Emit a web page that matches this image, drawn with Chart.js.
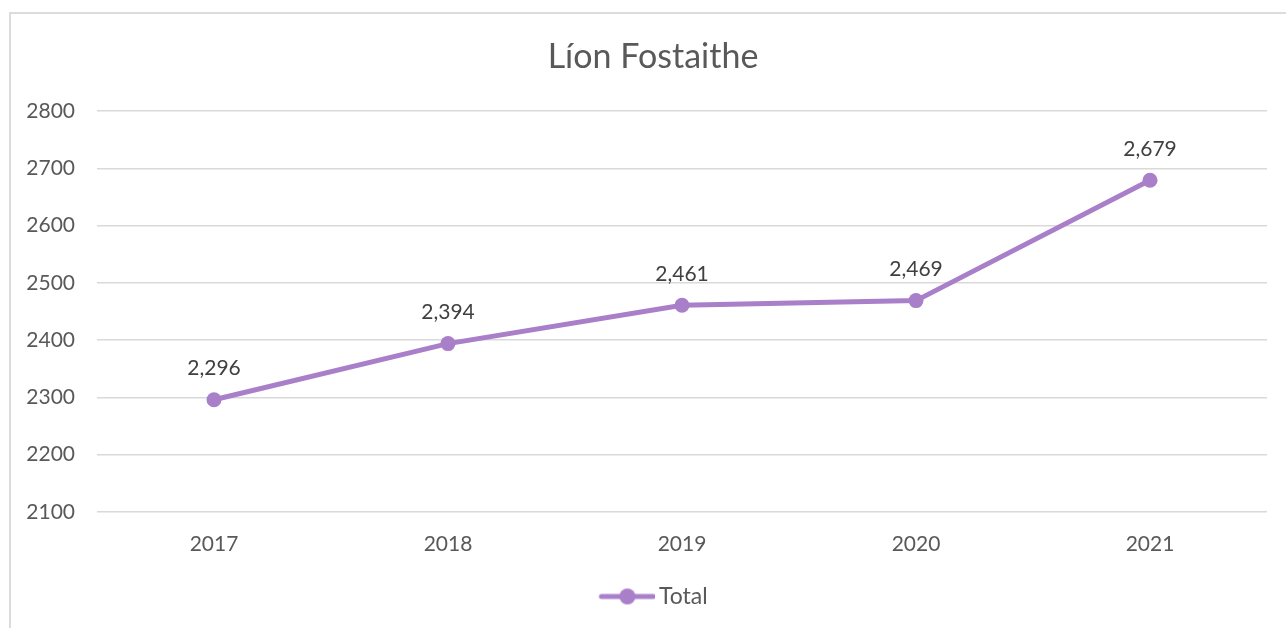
<!DOCTYPE html>
<html>
<head>
<meta charset="utf-8">
<script src="https://cdn.jsdelivr.net/npm/chart.js@4"></script>
<style>
  html, body { margin: 0; padding: 0; background: #fff; overflow: hidden; }
  #frame {
    position: absolute; left: 9px; top: 12px; width: 1400px; height: 700px;
    border-left: 2px solid #dcdcdc; border-top: 2px solid #dcdcdc;
  }
  #chart { position: absolute; left: 0; top: 0; }
</style>
</head>
<body>
<div id="frame"></div>
<canvas id="chart" width="1286" height="628"></canvas>
<script>
const years = ['2017', '2018', '2019', '2020', '2021'];
const totals = [2296, 2394, 2461, 2469, 2679];
const yTicks = [2100, 2200, 2300, 2400, 2500, 2600, 2700, 2800];

const purple = '#A87FC8';
const font = 'Lato, "Open Sans", sans-serif';

// legend symbol: line with a dot, drawn in the right part of a wide image
// so the legend item sits where the original one does
function legendSymbol() {
    const c = document.createElement('canvas');
    c.width = 104;
    c.height = 18;
    const g = c.getContext('2d');
    g.strokeStyle = purple;
    g.lineWidth = 5;
    g.lineCap = 'round';
    g.beginPath();
    g.moveTo(50, 9);
    g.lineTo(102, 9);
    g.stroke();
    g.fillStyle = purple;
    g.beginPath();
    g.arc(76, 9, 8, 0, Math.PI * 2);
    g.fill();
    return c;
}

// title and value labels drawn on top
const extras = {
    id: 'extras',
    afterDatasetsDraw(chart) {
        const ctx = chart.ctx;
        ctx.save();
        ctx.fillStyle = '#595959';
        ctx.font = '34px ' + font;
        ctx.textAlign = 'center';
        ctx.textBaseline = 'middle';
        ctx.fillText('Líon Fostaithe', 653, 57);

        ctx.fillStyle = '#404040';
        ctx.font = '21px ' + font;
        const meta = chart.getDatasetMeta(0);
        meta.data.forEach((pt, i) => {
            ctx.fillText(totals[i].toLocaleString('en-US'), pt.x, pt.y - 31);
        });
        ctx.restore();
    }
};

new Chart(document.getElementById('chart'), {
    type: 'line',
    data: {
        labels: years,
        datasets: [{
            label: 'Total',
            data: totals,
            borderColor: purple,
            backgroundColor: purple,
            borderWidth: 5,
            pointRadius: 7.5,
            pointHoverRadius: 7.5,
            pointBackgroundColor: purple,
            pointBorderWidth: 0,
            tension: 0,
            fill: false,
            pointStyle: 'circle'
        }]
    },
    options: {
        responsive: false,
        devicePixelRatio: 1,
        animation: false,
        layout: { padding: { left: 0, right: 19, top: 111, bottom: 10 } },
        scales: {
            x: {
                offset: true,
                afterFit(scale) { scale.height = 52; },
                grid: { display: false, drawTicks: false },
                border: { display: false },
                ticks: { color: '#595959', font: { family: font, size: 21 }, padding: 20 }
            },
            y: {
                min: 2100,
                max: 2800,
                afterBuildTicks(scale) {
                    scale.ticks = yTicks.map(v => ({ value: v }));
                },
                afterFit(scale) { scale.width = 97; },
                grid: { color: '#d9d9d9', lineWidth: 1.5, drawTicks: false },
                border: { display: false },
                ticks: {
                    color: '#595959',
                    font: { family: font, size: 21 },
                    padding: 22,
                    callback: v => String(v)
                }
            }
        },
        plugins: {
            title: { display: false },
            tooltip: { enabled: false },
            legend: {
                position: 'bottom',
                labels: {
                    usePointStyle: true,
                    pointStyleWidth: 88,
                    color: '#595959',
                    font: { family: font, size: 23 },
                    padding: 21,
                    generateLabels(chart) {
                        return [{
                            text: 'Total',
                            pointStyle: legendSymbol(),
                            fillStyle: purple,
                            strokeStyle: purple,
                            lineWidth: 0,
                            fontColor: '#595959',
                            datasetIndex: 0
                        }];
                    }
                }
            }
        }
    },
    plugins: [extras]
});
</script>
</body>
</html>
